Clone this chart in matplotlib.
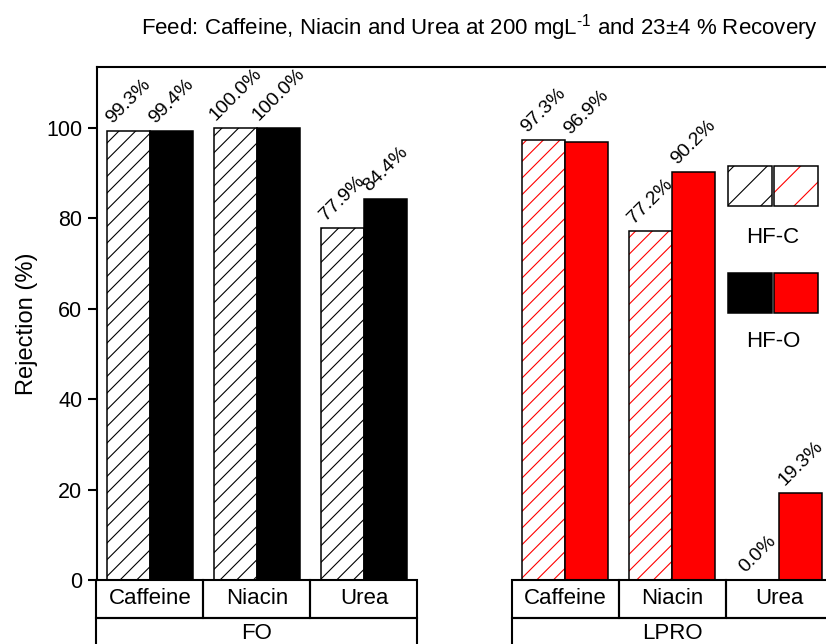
import numpy as np
import matplotlib
matplotlib.use('Agg')
import matplotlib.pyplot as plt
from matplotlib.patches import Rectangle

plt.rcParams['font.family'] = ['Liberation Sans', 'DejaVu Sans']
plt.rcParams['mathtext.fontset'] = 'custom'
plt.rcParams['mathtext.rm'] = 'Liberation Sans'
plt.rcParams['mathtext.it'] = 'Liberation Sans:italic'
plt.rcParams['hatch.linewidth'] = 0.8

# Rejection data (%)
compounds = ['Caffeine', 'Niacin', 'Urea']
processes = ['FO', 'LPRO']
fo_hfc = [99.3, 100.0, 77.9]
fo_hfo = [99.4, 100.0, 84.4]
lpro_hfc = [97.3, 77.2, 0.0]
lpro_hfo = [96.9, 90.2, 19.3]
membranes = ['HF-C', 'HF-O']

W, H = 826, 644
fig = plt.figure(figsize=(W / 100, H / 100), dpi=100)
ax = fig.add_axes([97 / W, 64 / H, 1 - 97 / W, 513 / H])

width = 0.4
lpro_shift = 3.88
x_fo = np.arange(len(compounds))
x_lpro = x_fo + lpro_shift


def hatched_bars(x, vals, color):
    # hatch colour follows edgecolor, so draw the outline separately
    ax.bar(x, vals, width, color='white', edgecolor=color, hatch='//', linewidth=0)
    ax.bar(x, vals, width, fill=False, edgecolor='black', linewidth=1.1)


hatched_bars(x_fo - width / 2, fo_hfc, 'black')
ax.bar(x_fo + width / 2, fo_hfo, width, color='black', edgecolor='black', linewidth=1.1)
hatched_bars(x_lpro - width / 2, lpro_hfc, 'red')
ax.bar(x_lpro + width / 2, lpro_hfo, width, color='red', edgecolor='black', linewidth=1.1)

# rotated value labels
for xs, vals in [(x_fo - width / 2, fo_hfc), (x_fo + width / 2, fo_hfo),
                 (x_lpro - width / 2, lpro_hfc), (x_lpro + width / 2, lpro_hfo)]:
    for xi, v in zip(xs, vals):
        ax.annotate('%.1f%%' % v, (xi, v), xytext=(0, 3), textcoords='offset points',
                    ha='center', va='bottom', rotation=45, fontsize=14)

ax.set_xlim(-0.495, 6.318)
ax.set_ylim(0, 113.5)
ax.set_yticks(np.arange(0, 101, 20))
ax.set_xticks([])
ax.tick_params(axis='y', direction='out', length=6.5, width=1.5, labelsize=15.5, pad=4)
for s in ['right', 'bottom']:
    ax.spines[s].set_visible(False)
for s in ['left', 'top']:
    ax.spines[s].set_linewidth(1.5)
ax.set_ylabel('Rejection (%)', fontsize=17, labelpad=6)

# category table below the axis
row_h = 8.4
for x0, name in [(x_fo, 'FO'), (x_lpro, 'LPRO')]:
    for xc, comp in zip(x0, compounds):
        ax.add_patch(Rectangle((xc - 0.5, -row_h), 1.0, row_h, fill=False,
                               edgecolor='black', linewidth=1.5, clip_on=False))
        ax.text(xc, -row_h / 2, comp, ha='center', va='center', fontsize=16)
    ax.add_patch(Rectangle((x0[0] - 0.5, -2 * row_h), len(x0), row_h, fill=False,
                           edgecolor='black', linewidth=1.5, clip_on=False))
    ax.text(x0[1], -row_h - 3.4, name, ha='center', va='center', fontsize=16)

# legend boxes
bw, bh = 0.0604, 0.078
lx = 0.8656
for y0, ty, lab, filled in [(0.729, 0.667, membranes[0], False),
                            (0.520, 0.464, membranes[1], True)]:
    for i, c in enumerate(['black', 'red']):
        xx = lx + i * (bw + 0.003)
        if filled:
            ax.add_patch(Rectangle((xx, y0), bw, bh, transform=ax.transAxes,
                                   facecolor=c, edgecolor='black', linewidth=1.1))
        else:
            ax.add_patch(Rectangle((xx, y0), bw, bh, transform=ax.transAxes,
                                   facecolor='white', edgecolor=c, hatch='/', linewidth=0))
            ax.add_patch(Rectangle((xx, y0), bw, bh, transform=ax.transAxes,
                                   fill=False, edgecolor='black', linewidth=1.1))
    ax.text(lx + bw + 0.0015, ty, lab, transform=ax.transAxes, ha='center',
            va='center', fontsize=16)

fig.text(479 / W, 1 - 28 / H,
         'Feed: Caffeine, Niacin and Urea at 200 mgL$^{\\text{-1}}$ and 23\u00b14 % Recovery',
         ha='center', va='center', fontsize=16)

fig.savefig('out.png', dpi=100)
